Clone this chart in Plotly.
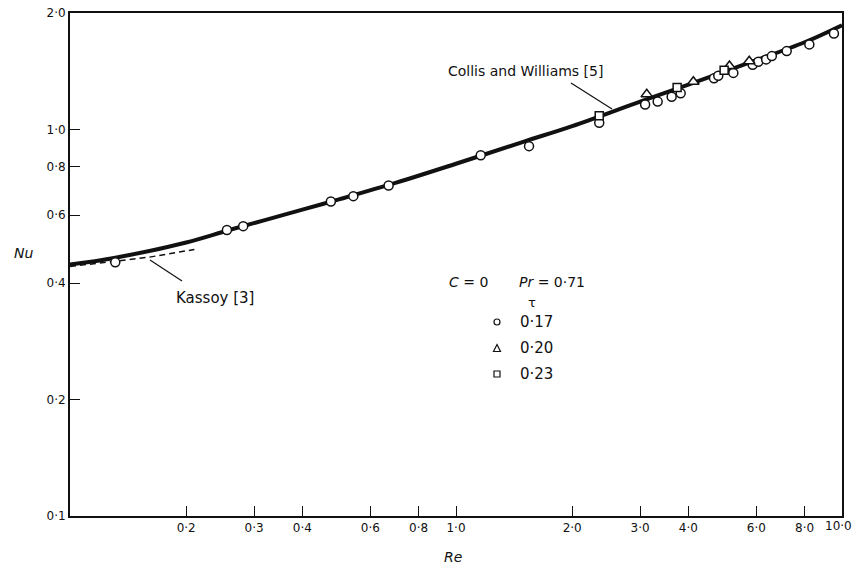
import plotly.graph_objects as go

# ---- data ----
curve_re = [0.1, 0.13, 0.2, 0.26, 0.4, 0.5, 0.7, 1.0, 1.5, 2.0, 3.0, 4.0, 5.0, 6.0, 8.0, 10.0]
curve_nu = [0.447, 0.465, 0.51, 0.55, 0.62, 0.66, 0.728, 0.815, 0.93, 1.02, 1.18, 1.305, 1.415, 1.51, 1.68, 1.86]

kassoy_re = [0.1, 0.13, 0.16, 0.21]
kassoy_nu = [0.442, 0.455, 0.467, 0.489]

circ_re = [0.131, 0.255, 0.281, 0.474, 0.542, 0.669, 1.159, 1.546, 2.35, 3.09, 3.33, 3.62, 3.82,
           4.66, 4.78, 5.23, 5.87, 6.07, 6.36, 6.58, 7.19, 8.23, 9.53]
circ_nu = [0.453, 0.549, 0.562, 0.651, 0.672, 0.716, 0.857, 0.905, 1.04, 1.16, 1.18, 1.214, 1.24,
           1.355, 1.376, 1.40, 1.47, 1.496, 1.517, 1.547, 1.594, 1.659, 1.77]

tri_re = [3.12, 4.12, 5.11, 5.75]
tri_nu = [1.232, 1.328, 1.458, 1.50]

sq_re = [2.35, 3.74, 4.95]
sq_nu = [1.085, 1.284, 1.423]

x_tickvals = [0.2, 0.3, 0.4, 0.6, 0.8, 1.0, 2.0, 3.0, 4.0, 6.0, 8.0, 10.0]
x_ticktext = ["0·2", "0·3", "0·4", "0·6", "0·8", "1·0", "2·0", "3·0", "4·0", "6·0", "8·0", "10·0"]
y_tickvals = [0.1, 0.2, 0.4, 0.6, 0.8, 1.0, 2.0]
y_ticktext = ["0·1", "0·2", "0·4", "0·6", "0·8", "1·0", "2·0"]

# ---- layout geometry (pixels) ----
W, H = 853, 565
L, R, T, B = 70, 11, 13, 49
PW, PH = W - L - R, H - T - B


def px(x):
    return (x - L) / PW


def py(y):
    return (H - B - y) / PH


FONT = "DejaVu Sans"
INK = "#111111"

fig = go.Figure()

fig.add_trace(go.Scatter(x=curve_re, y=curve_nu, mode="lines", line=dict(color=INK, width=4, shape="spline"),
                         showlegend=False, hoverinfo="skip"))
fig.add_trace(go.Scatter(x=kassoy_re, y=kassoy_nu, mode="lines", line=dict(color=INK, width=1.5, dash="6px,4px"),
                         showlegend=False, hoverinfo="skip"))

mk = dict(color="white", line=dict(color=INK, width=1.5))
fig.add_trace(go.Scatter(x=circ_re, y=circ_nu, mode="markers",
                         marker=dict(symbol="circle", size=9, **mk), name="0·17", showlegend=False))
fig.add_trace(go.Scatter(x=tri_re, y=tri_nu, mode="markers",
                         marker=dict(symbol="triangle-up", size=10, **mk), name="0·20", showlegend=False))
fig.add_trace(go.Scatter(x=sq_re, y=sq_nu, mode="markers",
                         marker=dict(symbol="square", size=8, **mk), name="0·23", showlegend=False))

axis_common = dict(
    showgrid=False, zeroline=False, showline=True, linecolor=INK, linewidth=2, mirror=True,
    ticks="inside", ticklen=10, tickwidth=1.3, tickcolor=INK,
    tickfont=dict(family=FONT, size=12, color=INK), automargin=False,
)
# the last x label ("10·0") sits at the very edge of the page; it is drawn as an annotation
# so it can be right-aligned to the edge instead of being hidden
x_ticktext_axis = x_ticktext[:-1] + [""]
fig.update_xaxes(type="log", range=[-1, 1], tickvals=x_tickvals, ticktext=x_ticktext_axis, **axis_common)
fig.update_yaxes(type="log", range=[-1, 0.30103], tickvals=y_tickvals, ticktext=y_ticktext, **axis_common)

annotations = []


def text(x, y, s, size=15, xanchor="center"):
    annotations.append(dict(x=px(x), y=py(y), xref="paper", yref="paper", text=s, showarrow=False,
                            xanchor=xanchor, yanchor="middle",
                            font=dict(family=FONT, size=size, color=INK)))


annotations.append(dict(x=x_tickvals[-1] and 1.0, y=0, xref="paper", yref="paper", text=x_ticktext[-1],
                        showarrow=False, xanchor="right", yanchor="top", yshift=-2, xshift=11, borderpad=0,
                        font=dict(family=FONT, size=12, color=INK)))

text(23, 253, "<i>Nu</i>", 14)
text(453, 557, "<i>Re</i>", 14)
text(525, 71, "Collis and Williams [5]", 14)
text(215, 298, "Kassoy [3]", 15)
text(469, 282, "<i>C</i> = 0", 14)
text(552, 282, "<i>Pr</i> = 0·71", 14)
text(532, 302, "τ", 13)
text(518, 322, "0·17", 15, "left")
text(518, 348, "0·20", 15, "left")
text(518, 374, "0·23", 15, "left")

shapes = [
    dict(type="line", xref="paper", yref="paper", x0=px(150), y0=py(260), x1=px(182), y1=py(281),
         line=dict(color=INK, width=1.2)),
    dict(type="line", xref="paper", yref="paper", x0=px(571), y0=py(83), x1=px(612), y1=py(109),
         line=dict(color=INK, width=1.2)),
    # legend symbols
    dict(type="circle", xref="paper", yref="paper", x0=px(494), y0=py(325), x1=px(500), y1=py(319),
         line=dict(color=INK, width=1.2)),
    dict(type="path", xref="paper", yref="paper",
         path=f"M {px(493.5)} {py(351.5)} L {px(500.5)} {py(351.5)} L {px(497)} {py(344.5)} Z",
         line=dict(color=INK, width=1.2)),
    dict(type="rect", xref="paper", yref="paper", x0=px(494), y0=py(377), x1=px(500), y1=py(371),
         line=dict(color=INK, width=1.2)),
]

fig.update_layout(
    width=W, height=H, autosize=False,
    margin=dict(l=L, r=R, t=T, b=B, pad=0, autoexpand=False),
    paper_bgcolor="white", plot_bgcolor="white",
    font=dict(family=FONT, color=INK),
    annotations=annotations, shapes=shapes,
    showlegend=False,
)

fig.write_html("out.html")
